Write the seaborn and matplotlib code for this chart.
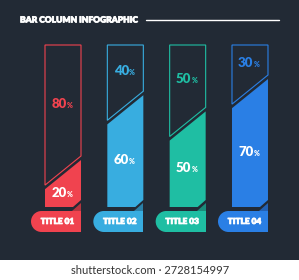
import matplotlib
matplotlib.use("Agg")
import matplotlib.pyplot as plt
import matplotlib.patheffects as pe
import seaborn as sns
from matplotlib.patches import Polygon, Rectangle, Ellipse
from matplotlib.lines import Line2D

# ---- data ----
titles = ["TITLE 01", "TITLE 02", "TITLE 03", "TITLE 04"]
filled = [20, 60, 50, 70]
remaining = [80, 40, 50, 30]
colors = ["#f0434f", "#38ade0", "#1fbea3", "#2a7fe5"]
dark_colors = ["#b3353f", "#2a80a8", "#1a8b79", "#2361b3"]
heading = "BAR COLUMN INFOGRAPHIC"
footer = "shutterstock.com \u00b7 2728154997"

BG = "#222a35"
W, H = 299, 280

sns.set_theme(style="white")
plt.rcParams["font.family"] = ["Lato", "DejaVu Sans"]

fig = plt.figure(figsize=(W / 100, H / 100), dpi=100)
fig.patch.set_facecolor(BG)
ax = fig.add_axes([0, 0, 1, 1])
ax.set_facecolor(BG)

# pixel layout -> data scale
PX_X = 62.33          # pixels per category step
PX_Y = 1.62           # pixels per percent unit
X0_PX, Y0_PX = 63, 207
bar_w = 36 / PX_X

def dx(px):
    return px / PX_X

def dy(px):
    return px / PX_Y

sns.barplot(x=titles, y=filled, hue=titles, palette=colors, legend=False,
            width=bar_w, ax=ax, saturation=1)

ax.set_xlim(-X0_PX / PX_X, (W - X0_PX) / PX_X)
ax.set_ylim(-(H - Y0_PX) / PX_Y, Y0_PX / PX_Y)
ax.axis("off")

bold_white = [pe.withStroke(linewidth=0.5, foreground="white")]

s = 9.0     # half rise of the diagonal
g = 2.5     # gap between outline and fill
bars = list(ax.patches)
for i, p in enumerate(bars):
    xl = p.get_x()
    xr = xl + p.get_width()
    v = p.get_height()
    xc = (xl + xr) / 2
    top = v + remaining[i]
    p.remove()
    fill_pts = [(xl, 0), (xr - dx(8), 0), (xr, dy(7)), (xr, v + s), (xl, v - s)]
    ax.add_patch(Polygon(fill_pts, closed=True, facecolor=colors[i], edgecolor="none", zorder=3))
    out_pts = [(xl, v - s + g), (xl, top), (xr, top), (xr, v + s + g)]
    ax.add_patch(Polygon(out_pts, closed=True, facecolor="none", edgecolor=colors[i],
                         lw=0.8, zorder=3, joinstyle="miter"))
    tri = [(xr, dy(4)), (xr, -dy(3.5)), (xr - dx(9), -dy(3.5))]
    ax.add_patch(Polygon(tri, closed=True, facecolor=dark_colors[i], edgecolor="none", zorder=2))
    y_top, y_bot = -dy(4), -dy(25)
    r = 10.5
    left = xr - dx(50)
    ax.add_patch(Rectangle((left + dx(r), y_bot), xr - left - dx(r), y_top - y_bot,
                           facecolor=colors[i], edgecolor="none", zorder=3))
    ax.add_patch(Ellipse((left + dx(r), (y_top + y_bot) / 2), 2 * dx(r), y_top - y_bot,
                         facecolor=colors[i], edgecolor="none", zorder=3))
    ax.text(xr - dx(23.5), (y_top + y_bot) / 2, titles[i], color="white", fontsize=6.0,
            fontweight="heavy", ha="center", va="center", zorder=4, path_effects=bold_white)

    cap = dy(7)
    y_top_lab = (100 + v + g + s / 2) / 2
    y_bot_lab = v / 2 - 1.5
    for yy, val, col in [(y_top_lab, remaining[i], colors[i]), (y_bot_lab, v, "white")]:
        jx = xc + dx(3.5)
        ax.text(jx, yy - cap / 2, f"{val:g}", color=col, fontsize=9.5, fontweight="heavy",
                ha="right", va="baseline", zorder=4)
        ax.text(jx + dx(0.4), yy - cap / 2, "%", color=col, fontsize=5, fontweight="heavy",
                ha="left", va="baseline", zorder=4)

fig.text(20 / W, 1 - 20 / H, heading, color="white", fontsize=6.1, fontweight="heavy",
         ha="left", va="center", path_effects=bold_white)
fig.add_artist(Line2D([146 / W, 279 / W], [1 - 20 / H, 1 - 20 / H], color="white", lw=1))

fig.add_artist(Rectangle((0, 0), 1, 20 / H, transform=fig.transFigure,
                         facecolor="white", edgecolor="none"))
fig.text(150 / W, 10 / H, footer, color="#333333", fontsize=8.0, ha="center", va="center",
         family=["Lato", "DejaVu Sans"])

fig.savefig("out.png", dpi=100, facecolor=BG)
